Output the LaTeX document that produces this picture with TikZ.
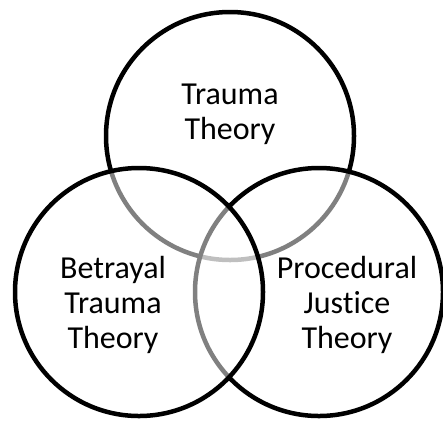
\documentclass[tikz,border=0pt]{standalone}
\usepackage{fontspec}
\setmainfont[Ligatures=NoCommon]{Carlito}
\begin{document}
\begin{tikzpicture}[x=1pt,y=-1pt,
  venn/.style={draw=black,line width=4.5pt,fill=white,fill opacity=0.5,draw opacity=1},
  lbl/.style={align=center,font=\fontsize{32}{35}\selectfont,text=black,inner sep=0pt}]
\useasboundingbox[fill=white] (0,0) rectangle (443,421);
\node[venn,circle,minimum size=248pt,inner sep=0pt] (top) at (230,136) {};
\node[venn,circle,minimum size=248pt,inner sep=0pt] (right) at (319,292) {};
\node[venn,circle,minimum size=248pt,inner sep=0pt] (left) at (139,292) {};
\node[lbl] (ttop) at (230,114) {Trauma\\Theory};
\node[lbl] (tleft) at (113,305) {Betrayal\\Trauma\\Theory};
\node[lbl] (tright) at (347,305) {Procedural\\Justice\\Theory};
\end{tikzpicture}
\end{document}
